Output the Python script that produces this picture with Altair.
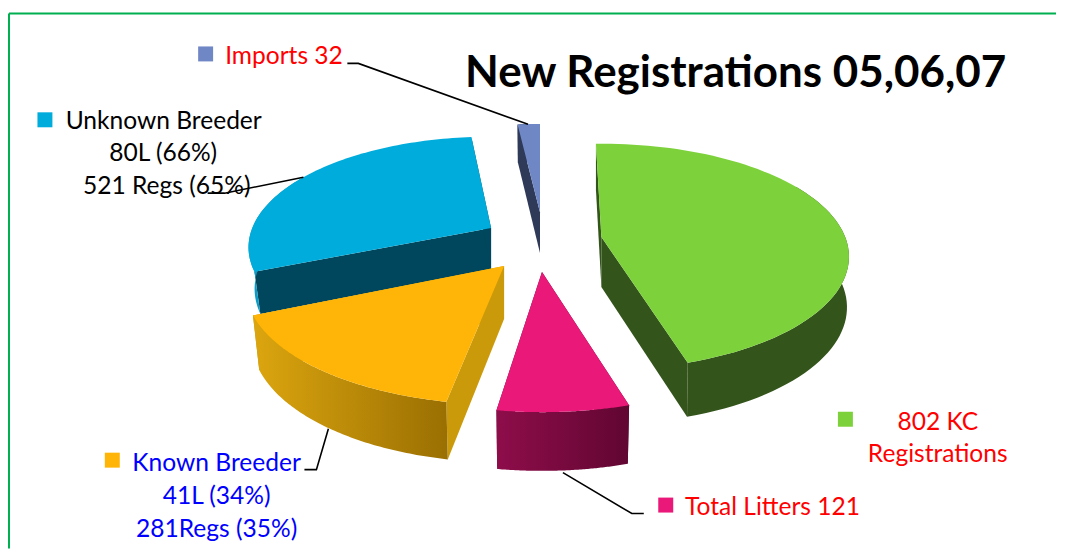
import math
import altair as alt
import pandas as pd

# ---- data
slice_names = ["KC Registrations", "Total Litters", "Known Breeder", "Unknown Breeder", "Imports"]
slice_values = [802, 121, 281, 521, 32]
title_text = "New Registrations 05,06,07"

label_text = ["Imports 32", "Unknown Breeder", "80L (66%)", "521 Regs (65%)", "802 KC", "Registrations",
              "Total Litters 121", "Known Breeder", "41L (34%)", "281Regs (35%)"]
label_color = ["#FF0000", "#000000", "#000000", "#000000", "#FF0000", "#FF0000",
               "#FF0000", "#0000FF", "#0000FF", "#0000FF"]
label_x = [283.5, 163, 162.5, 166, 938.5, 938.5, 773, 216, 216, 216]
label_y = [57, 122, 154, 187, 423, 455, 508, 464, 497, 530]

key_name = ["Imports", "Unknown Breeder", "KC Registrations", "Total Litters", "Known Breeder"]
key_x = [205, 44, 846, 666, 111.5]
key_y = [53.5, 119.5, 419.5, 505.5, 460.5]

leader_id = ["i", "i", "i", "u", "u", "u", "p", "p", "p", "y", "y", "y"]
leader_x = [347, 358, 528, 207, 224, 303, 563, 632, 644, 304, 316, 328]
leader_y = [63, 63, 124, 193, 193, 177, 473, 514, 514, 470, 470, 429]

# ---- styling / layout
top_col = {"KC Registrations": "#7DD13B", "Total Litters": "#EA1878", "Known Breeder": "#FFB508",
           "Unknown Breeder": "#00ACDB", "Imports": "#7087C6"}
face_col = {"KC Registrations": "#33541A", "Total Litters": "#610632", "Known Breeder": "#CB9A0B",
            "Unknown Breeder": "#00465C", "Imports": "#2E3A58"}
rim_col = {"KC Registrations": ("#33541A", "#33541A"), "Total Litters": ("#8E0D4A", "#610632"),
           "Known Breeder": ("#DCA60F", "#9A6F02"), "Unknown Breeder": ("#0A9CC7", "#0A9CC7"),
           "Imports": ("#2E3A58", "#2E3A58")}
apex = {"KC Registrations": (601.5, 237), "Total Litters": (542, 272), "Known Breeder": (504, 266),
        "Unknown Breeder": (491, 228), "Imports": (540, 212)}
depth = {"KC Registrations": 50, "Total Litters": 54, "Known Breeder": 53,
         "Unknown Breeder": 41, "Imports": 41}
radius_k = {"KC Registrations": 0.985, "Total Litters": 1.04, "Known Breeder": 1.03,
            "Unknown Breeder": 0.965, "Imports": 0.93}
shift_start = {"KC Registrations": 0, "Total Litters": 0.8, "Known Breeder": 3.2, "Unknown Breeder": 2.5, "Imports": 1.5}
shift_end = {"KC Registrations": 0, "Total Litters": 0.8, "Known Breeder": 1.2, "Unknown Breeder": 2.5, "Imports": 1.5}
shrink = {"KC Registrations": 0.992, "Total Litters": 0.985, "Known Breeder": 0.975,
          "Unknown Breeder": 0.975, "Imports": 0.985}
R, RT, P = 248, 111.5, 0.174
draw_order = ["Imports", "Unknown Breeder", "KC Registrations", "Total Litters", "Known Breeder"]
START_DEG = -1.5

W, H = 1049, 541
XS = alt.X("x:Q", scale=alt.Scale(domain=[8, 8 + W], range=[0, W]), axis=None)
YS = alt.Y("y:Q", scale=alt.Scale(domain=[8, 8 + H], range=[0, H]), axis=None)


def project(name, deg):
    t = math.radians(deg)
    u, v = math.sin(t), -math.cos(t)
    s = 1 / (1 - P * v)
    k = radius_k[name]
    return u * R * s * k, v * RT * s * k, s


def top_pt(name, deg):
    x, y, _ = project(name, deg)
    return [apex[name][0] + x, apex[name][1] + y]


def low_pt(name, deg):
    x, y, s = project(name, deg)
    return [apex[name][0] + x * shrink[name], apex[name][1] + y + depth[name] * s ** 0.45]


def shape(points, fill):
    pts = [[float(a), float(b)] for a, b in points]
    pts.append(pts[0])
    feature = {"type": "Feature", "properties": {},
               "geometry": {"type": "Polygon", "coordinates": [pts]}}
    return alt.Chart(alt.Data(values=[feature])).mark_geoshape(
        fill=fill, stroke="transparent", strokeWidth=0
    ).project(type="identity", scale=1, translate=[-8, -8])


total = sum(slice_values)
spans = {}
a = START_DEG
for n, v in zip(slice_names, slice_values):
    step = 360 * v / total
    spans[n] = (a + shift_start[n], a + step + shift_end[n])
    a += step

layers = []
for n in draw_order:
    a0, a1 = spans[n]
    angles = [a0 + (a1 - a0) * i / 80 for i in range(81)]
    ax, ay = apex[n]
    abot = [ax, ay + depth[n]]
    f0 = [[ax, ay], top_pt(n, a0), low_pt(n, a0), abot]
    f1 = [[ax, ay], top_pt(n, a1), low_pt(n, a1), abot]
    c0, c1 = rim_col[n]
    front = [i for i in angles if math.cos(math.radians(i)) < 0.5] or angles
    rim = [top_pt(n, i) for i in front] + [low_pt(n, i) for i in reversed(front)]
    grad = alt.LinearGradient(gradient="linear", x1=1, x2=0, y1=0, y2=0,
                              stops=[alt.GradientStop(color=c1, offset=0),
                                     alt.GradientStop(color=c0, offset=1)])
    layers.append(shape(f0, face_col[n]))
    layers.append(shape(f1, face_col[n]))
    layers.append(shape(rim, grad))
    layers.append(shape([[ax, ay]] + [top_pt(n, i) for i in angles], top_col[n]))

frame_h = pd.DataFrame({"x": [8], "x2": [8 + W], "y": [13]})
frame_v = pd.DataFrame({"x": [8], "y": [13], "y2": [8 + H]})
frame = [
    alt.Chart(frame_h).mark_rule(color="#00B050", strokeWidth=2).encode(x=XS, x2="x2:Q", y=YS),
    alt.Chart(frame_v).mark_rule(color="#00B050", strokeWidth=2).encode(x=XS, y=YS, y2="y2:Q"),
]

leaders = alt.Chart(pd.DataFrame({"id": leader_id, "x": leader_x, "y": leader_y, "o": range(len(leader_x))})).mark_line(
    color="#000000", strokeWidth=1.6).encode(x=XS, y=YS, detail="id:N", order="o:Q")

labels = alt.Chart(pd.DataFrame({"t": label_text, "c": label_color, "x": label_x, "y": label_y})).mark_text(
    font="Lato", fontSize=24.6, align="center", baseline="middle").encode(
    x=XS, y=YS, text="t:N", color=alt.Color("c:N", scale=None))

keys = alt.Chart(pd.DataFrame({"x": key_x, "y": key_y, "c": [top_col[k] for k in key_name]})).mark_square(
    size=225, opacity=1, filled=True).encode(x=XS, y=YS, color=alt.Color("c:N", scale=None))

title = alt.Chart(pd.DataFrame({"t": [title_text], "x": [736], "y": [74]})).mark_text(
    font="Lato", fontSize=44, fontWeight="bold", align="center", baseline="middle", color="#000000").encode(
    x=XS, y=YS, text="t:N")

chart = alt.layer(*frame, *layers, leaders, keys, labels, title).resolve_scale(
    x="shared", y="shared", color="independent"
).properties(width=W, height=H, padding=0, background="#FFFFFF").configure_view(stroke=None)

chart.save("out.html", embed_options={"renderer": "svg", "actions": False})
